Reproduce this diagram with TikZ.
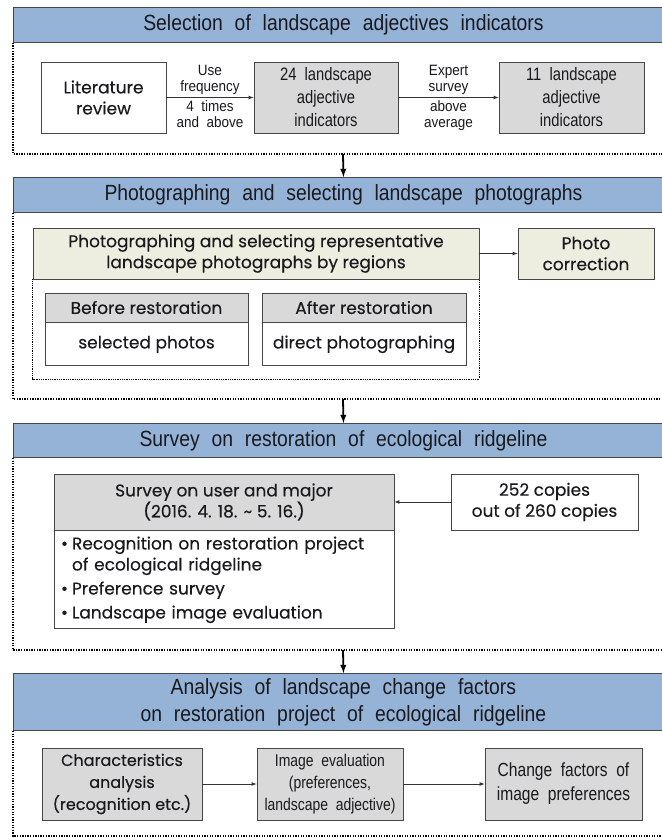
\documentclass[tikz,border=0pt]{standalone}
\usepackage{fontspec}
\setmainfont{Liberation Sans}
\newfontfamily\roundfont[FakeBold=0.25]{Poppins}
\newfontfamily\narrowfont[FakeStretch=0.82,WordSpace=2]{Liberation Sans}
\newfontfamily\headfont[FakeStretch=0.88,WordSpace=2.2]{Liberation Sans}
\newfontfamily\labelfont[FakeStretch=0.9,WordSpace=2]{Liberation Sans}
\definecolor{headblue}{RGB}{149,179,215}
\definecolor{boxgrey}{RGB}{217,217,217}
\definecolor{boxgreen}{RGB}{237,238,224}
\definecolor{edge}{RGB}{70,70,70}
\definecolor{ink}{RGB}{25,25,30}

\tikzset{
    headbar/.style={draw=edge, fill=headblue, line width=0.9pt, anchor=north west,
        minimum width=660pt, inner sep=0pt, align=center, text=ink,
        font=\headfont\fontsize{22}{27}\selectfont},
    greybox/.style={draw=edge, fill=boxgrey, line width=0.8pt, inner sep=0pt, align=center, text=ink},
    whitebox/.style={draw=edge, fill=white, line width=0.8pt, inner sep=0pt, align=center, text=ink},
    greenbox/.style={draw=edge, fill=boxgreen, line width=0.8pt, inner sep=0pt, align=center, text=ink},
    roundtxt/.style={font=\roundfont\fontsize{17}{21}\selectfont},
    narrowtxt/.style={font=\narrowfont\fontsize{18}{23}\selectfont},
    smalltxt/.style={font=\labelfont\fontsize{15}{16}\selectfont, align=center, inner sep=3pt, text=ink},
    dotframe/.style={line width=1.3pt, dash pattern=on 1.3pt off 1.3pt},
    flowarrow/.style={-latex, line width=0.7pt, draw=black!80},
    downarrow/.style={-latex, line width=1.8pt}
}

\begin{document}
\begin{tikzpicture}[x=1pt,y=-1pt]

    \useasboundingbox[fill=white] (0,0) rectangle (661,840);

    % selection of indicators
    \node[headbar, minimum height=35pt] (head1) at (13,7)
        {Selection of landscape adjectives indicators};
    \coordinate (bot1) at (343,154);
    \draw[dotframe] (head1.south west) |- (bot1) -- (head1.south east |- bot1);

    \node[whitebox, roundtxt, minimum width=125pt, minimum height=71pt] (litrev) at (103.5,97.5)
        {Literature\\review};
    \node[greybox, narrowtxt, minimum width=144pt, minimum height=71pt] (adj24) at (326,97.5)
        {24 landscape\\adjective\\indicators};
    \node[greybox, narrowtxt, minimum width=145pt, minimum height=71pt] (adj11) at (571.5,97.5)
        {11 landscape\\adjective\\indicators};

    \draw[flowarrow] (litrev) -- (adj24)
        node[smalltxt, midway, above] {Use\\frequency}
        node[smalltxt, midway, below] {4 times\\and above};
    \draw[flowarrow] (adj24) -- (adj11)
        node[smalltxt, midway, above] {Expert\\survey}
        node[smalltxt, midway, below] {above\\average};

    % photographs
    \node[headbar, minimum height=35pt] (head2) at (13,177)
        {Photographing and selecting landscape photographs};
    \coordinate (bot2) at (343,399);
    \draw[dotframe] (head2.south west) |- (bot2) -- (head2.south east |- bot2);
    \draw[downarrow] (bot1) -- (head2.north);

    \node[greenbox, roundtxt, minimum width=446pt, minimum height=51pt] (regsel) at (256,253.5)
        {Photographing and selecting representative\\landscape photographs by regions};
    \node[greenbox, roundtxt, minimum width=136pt, minimum height=51pt] (photocor) at (586,253.5)
        {Photo\\correction};
    \draw[flowarrow] (regsel) -- (photocor);
    \draw[dotframe, line width=0.9pt, dash pattern=on 0.9pt off 0.9pt]
        (regsel.south west) |- (256,379) -| (regsel.south east);

    \node[greybox, roundtxt, minimum width=203pt, minimum height=29pt] (beforehd) at (146.5,307.5)
        {Before restoration};
    \node[whitebox, roundtxt, minimum width=203pt, minimum height=43pt, anchor=north] (beforebd)
        at (beforehd.south) {selected photos};
    \node[greybox, roundtxt, minimum width=204pt, minimum height=29pt] (afterhd) at (364,307.5)
        {After restoration};
    \node[whitebox, roundtxt, minimum width=204pt, minimum height=43pt, anchor=north] (afterbd)
        at (afterhd.south) {direct photographing};

    % survey
    \node[headbar, minimum height=34pt] (head3) at (13,423)
        {Survey on restoration of ecological ridgeline};
    \coordinate (bot3) at (343,650);
    \draw[dotframe] (head3.south west) |- (bot3) -- (head3.south east |- bot3);
    \draw[downarrow] (bot2) -- (head3.north);

    \node[greybox, roundtxt, minimum width=340pt, minimum height=56pt] (survhd) at (224,502)
        {Survey on user and major\\(2016. 4. 18. \textasciitilde{} 5. 16.)};
    \node[whitebox, roundtxt, minimum width=340pt, minimum height=98pt, anchor=north,
        align=left, text width=326pt] (survbd) at (survhd.south)
        {\makebox[11pt][l]{\textbullet}Recognition on restoration project\\
         \hspace*{11pt}of ecological ridgeline\\[3pt]
         \makebox[11pt][l]{\textbullet}Preference survey\\[3pt]
         \makebox[11pt][l]{\textbullet}Landscape image evaluation};
    \node[whitebox, roundtxt, minimum width=187pt, minimum height=56pt] (copies) at (544.5,502)
        {252 copies\\out of 260 copies};
    \draw[flowarrow] (copies) -- (survhd);

    % analysis
    \node[headbar, minimum height=57pt] (head4) at (13,673)
        {Analysis of landscape change factors\\on restoration project of ecological ridgeline};
    \coordinate (bot4) at (343,836);
    \draw[dotframe] (head4.south west) |- (bot4) -- (head4.south east |- bot4);
    \draw[downarrow] (bot3) -- (head4.north);

    \node[greybox, font=\roundfont\fontsize{16}{22}\selectfont, minimum width=160pt,
        minimum height=72pt] (charan) at (122,784)
        {Characteristics\\analysis\\(recognition etc.)};
    \node[greybox, font=\narrowfont\fontsize{17}{22}\selectfont, minimum width=146pt,
        minimum height=72pt] (imgeval) at (330,784)
        {Image evaluation\\(preferences,\\landscape adjective)};
    \node[greybox, font=\narrowfont\fontsize{19}{24}\selectfont, minimum width=157pt,
        minimum height=72pt] (chgfac) at (563.5,784)
        {Change factors of\\image preferences};
    \draw[flowarrow] (charan) -- (imgeval);
    \draw[flowarrow] (imgeval) -- (chgfac);

\end{tikzpicture}
\end{document}
